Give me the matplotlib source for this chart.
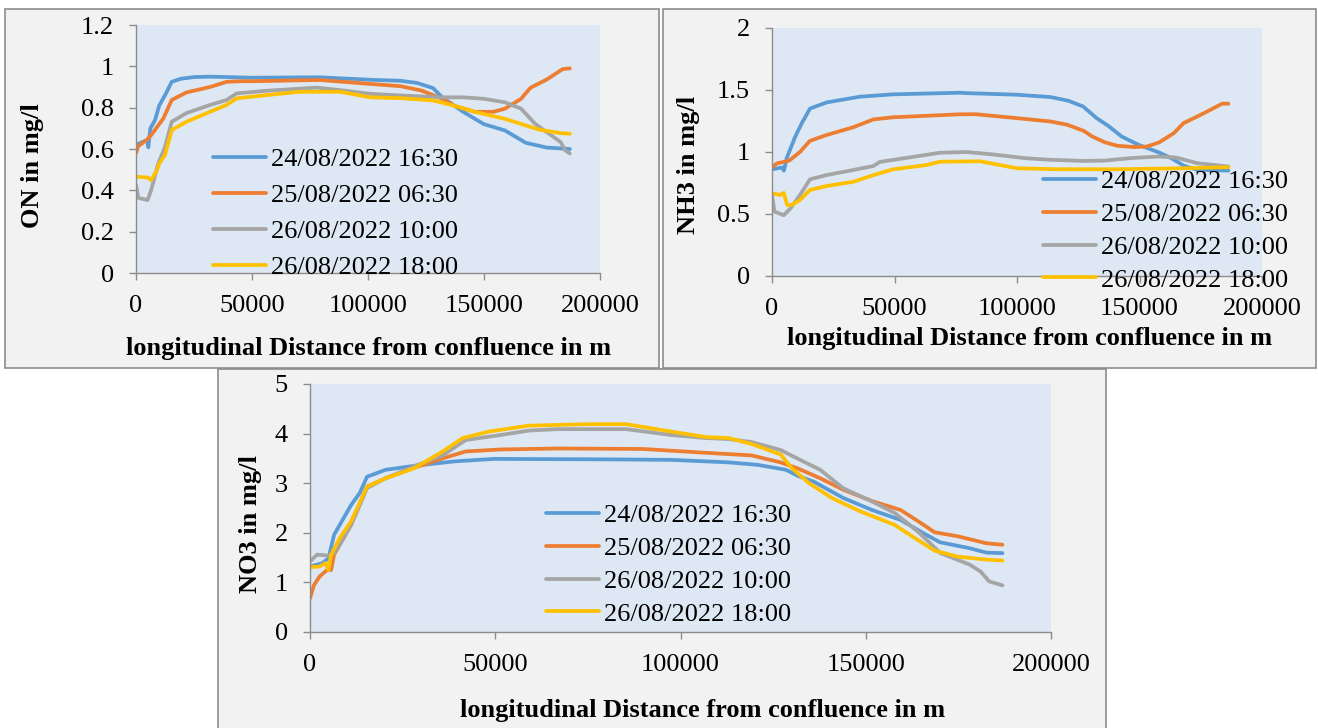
import matplotlib
matplotlib.use("Agg")
import matplotlib.pyplot as plt
from matplotlib.patches import Rectangle

# ---- data ----
labels = ["24/08/2022 16:30", "25/08/2022 06:30", "26/08/2022 10:00", "26/08/2022 18:00"]
colors = ["#5b9bd5", "#ed7d31", "#a5a5a5", "#ffc000"]

# ON (mg/l)
on_x1 = [0, 3000, 5000, 5300, 6200, 8200, 10000, 12500, 15400, 19400, 25000, 31900, 50000, 79000, 101000, 114000, 121000, 128000, 132000, 141000, 150000, 159000, 168000, 177000, 187000]
on_y1 = [0.62, 0.635, 0.643, 0.608, 0.70, 0.74, 0.81, 0.86, 0.925, 0.94, 0.948, 0.95, 0.945, 0.947, 0.935, 0.93, 0.92, 0.895, 0.85, 0.78, 0.72, 0.69, 0.63, 0.607, 0.60]
on_x2 = [0, 1000, 4500, 6500, 11800, 15400, 21800, 31900, 39000, 45000, 50000, 79000, 101000, 114000, 123000, 132000, 137000, 146000, 154000, 159000, 166000, 170000, 177000, 184000, 187000]
on_y2 = [0.58, 0.614, 0.643, 0.667, 0.748, 0.837, 0.874, 0.90, 0.925, 0.928, 0.928, 0.934, 0.915, 0.904, 0.883, 0.843, 0.81, 0.78, 0.78, 0.795, 0.843, 0.896, 0.936, 0.987, 0.99]
on_x3 = [0, 1000, 5000, 6500, 9600, 12500, 15400, 21800, 31900, 39000, 43400, 56300, 77900, 87900, 101000, 114000, 132000, 141000, 150000, 159000, 166000, 172000, 179000, 183000, 185000, 187000]
on_y3 = [0.426, 0.363, 0.353, 0.40, 0.53, 0.61, 0.732, 0.774, 0.813, 0.837, 0.869, 0.882, 0.897, 0.885, 0.867, 0.859, 0.85, 0.85, 0.843, 0.826, 0.795, 0.722, 0.666, 0.634, 0.594, 0.578]
on_x4 = [0, 5000, 6500, 8700, 10000, 12500, 15400, 21800, 31900, 39000, 43400, 56300, 70700, 87900, 101000, 114000, 128000, 137000, 146000, 159000, 168000, 174000, 183000, 187000]
on_y4 = [0.466, 0.462, 0.45, 0.49, 0.53, 0.571, 0.692, 0.732, 0.78, 0.813, 0.845, 0.861, 0.877, 0.877, 0.85, 0.846, 0.835, 0.81, 0.78, 0.746, 0.714, 0.693, 0.677, 0.674]

# NH3 (mg/l)
nh_x1 = [0, 4000, 4900, 6000, 9400, 12100, 15500, 22300, 35900, 49400, 76700, 79000, 100000, 113700, 121000, 127000, 132500, 137600, 142700, 149600, 158000, 163000, 168000, 173500, 186300]
nh_y1 = [0.86, 0.875, 0.85, 0.95, 1.12, 1.23, 1.35, 1.40, 1.446, 1.465, 1.478, 1.475, 1.462, 1.443, 1.413, 1.367, 1.273, 1.206, 1.125, 1.058, 0.996, 0.95, 0.89, 0.856, 0.85]
nh_x2 = [0, 2000, 7000, 11400, 15500, 22300, 33200, 41400, 49400, 76700, 82900, 100000, 113700, 120500, 127300, 130700, 136000, 141000, 148000, 153000, 158000, 164000, 168000, 175000, 183800, 186300]
nh_y2 = [0.875, 0.908, 0.93, 1.0, 1.09, 1.137, 1.20, 1.263, 1.28, 1.304, 1.305, 1.273, 1.246, 1.22, 1.17, 1.125, 1.077, 1.05, 1.04, 1.044, 1.077, 1.152, 1.233, 1.30, 1.39, 1.39]
nh_x3 = [0, 1000, 4800, 7600, 11400, 15500, 22300, 33200, 41400, 44000, 56300, 68600, 79500, 90400, 103400, 113700, 127300, 136000, 146000, 158000, 165000, 173500, 186300]
nh_y3 = [0.653, 0.52, 0.49, 0.546, 0.653, 0.78, 0.814, 0.855, 0.887, 0.92, 0.957, 0.994, 1.0, 0.98, 0.95, 0.937, 0.928, 0.931, 0.95, 0.964, 0.955, 0.91, 0.883]
nh_x4 = [0, 3400, 4800, 6200, 8200, 11400, 15500, 22300, 33200, 41400, 49400, 63100, 68600, 84900, 100000, 116000, 142000, 168000, 186300]
nh_y4 = [0.667, 0.653, 0.67, 0.573, 0.573, 0.613, 0.694, 0.726, 0.76, 0.814, 0.86, 0.895, 0.922, 0.925, 0.869, 0.861, 0.861, 0.869, 0.877]

# NO3 (mg/l)
no_x1 = [0, 3400, 5000, 6500, 8800, 11100, 13400, 15400, 20400, 28100, 39000, 49700, 82000, 97600, 113000, 120800, 128500, 131600, 136000, 144000, 151700, 159400, 165600, 170000, 178000, 182600, 186900]
no_y1 = [1.32, 1.39, 1.49, 1.96, 2.26, 2.56, 2.80, 3.13, 3.27, 3.35, 3.44, 3.49, 3.48, 3.47, 3.42, 3.37, 3.27, 3.15, 3.03, 2.70, 2.46, 2.26, 1.99, 1.81, 1.69, 1.60, 1.59]
no_x2 = [0, 1100, 2600, 4600, 5700, 6500, 11100, 15400, 20400, 28100, 35800, 42000, 51300, 66700, 89900, 105300, 119200, 127000, 131600, 137700, 143900, 151700, 159400, 164000, 168600, 174800, 182500, 186900]
no_y2 = [0.68, 0.95, 1.12, 1.25, 1.25, 1.56, 2.16, 2.93, 3.10, 3.31, 3.50, 3.64, 3.68, 3.70, 3.69, 3.62, 3.56, 3.42, 3.30, 3.10, 2.87, 2.64, 2.46, 2.24, 2.01, 1.93, 1.79, 1.76]
no_x3 = [0, 1900, 5000, 6500, 8800, 11100, 15400, 20400, 28100, 35800, 42000, 51300, 59000, 66700, 85300, 97600, 106900, 113000, 119200, 127000, 133100, 137700, 143900, 151700, 157800, 164000, 170200, 178000, 181000, 183300, 186900]
no_y3 = [1.42, 1.56, 1.54, 1.59, 1.86, 2.16, 2.90, 3.10, 3.34, 3.56, 3.87, 3.97, 4.06, 4.09, 4.09, 3.97, 3.91, 3.89, 3.83, 3.67, 3.44, 3.27, 2.90, 2.63, 2.40, 2.03, 1.59, 1.36, 1.22, 1.02, 0.94]
no_x4 = [0, 2600, 4200, 5000, 5700, 8000, 11100, 15400, 20400, 28100, 35800, 41200, 48200, 59000, 74400, 85300, 97600, 106900, 113000, 119200, 127000, 130100, 134700, 140900, 148600, 157800, 162500, 168600, 174800, 182500, 186900]
no_y4 = [1.31, 1.32, 1.39, 1.25, 1.56, 1.89, 2.23, 2.93, 3.10, 3.30, 3.64, 3.91, 4.04, 4.16, 4.19, 4.19, 4.04, 3.93, 3.91, 3.79, 3.58, 3.30, 3.00, 2.70, 2.43, 2.16, 1.93, 1.64, 1.52, 1.46, 1.44]

W, H = 1318, 728
SERIF = ["Liberation Serif", "DejaVu Serif"]
FS = 19

plt.rcParams["font.family"] = SERIF

fig = plt.figure(figsize=(W / 100, H / 100), dpi=100)
fig.patch.set_facecolor("white")


def px_rect(x0, y0, x1, y1):
    return [x0 / W, 1 - y1 / H, (x1 - x0) / W, (y1 - y0) / H]


def frame(x0, y0, x1, y1):
    fig.patches.append(Rectangle((x0 / W, 1 - y1 / H), (x1 - x0) / W, (y1 - y0) / H,
                                 transform=fig.transFigure, facecolor="#f2f2f2",
                                 edgecolor="#8c8c8c", linewidth=1.2, zorder=-5))


def panel(rect, xs, ys, ymax, ystep, yfmt, ylab, ylab_xy, xlab_xy, leg_xy, leg_space):
    ax = fig.add_axes(px_rect(*rect))
    ax.set_zorder(2)
    ax.set_facecolor("#dde8f4")
    for x, y, c, lab in zip(xs, ys, colors, labels):
        ax.plot(x, y, color=c, linewidth=2.7, label=lab, solid_capstyle="round")
    ax.set_xlim(0, 200000)
    ax.set_ylim(0, ymax)
    ax.set_xticks([0, 50000, 100000, 150000, 200000])
    yt = [i * ystep for i in range(int(round(ymax / ystep)) + 1)]
    ax.set_yticks(yt)
    ax.set_yticklabels([yfmt(v) for v in yt])
    for s in ["top", "right"]:
        ax.spines[s].set_visible(False)
    for s in ["left", "bottom"]:
        ax.spines[s].set_color("#8c8c8c")
        ax.spines[s].set_linewidth(1.0)
    ax.tick_params(axis="both", direction="out", length=5, width=1.0, color="#8c8c8c",
                   labelsize=FS, pad=11, labelcolor="black")
    fig.text(ylab_xy[0] / W, 1 - ylab_xy[1] / H, ylab, rotation=90, ha="center", va="center",
             fontsize=FS, fontweight="bold", family=SERIF)
    fig.text(xlab_xy[0] / W, 1 - xlab_xy[1] / H, "longitudinal Distance from confluence in m",
             ha="center", va="center", fontsize=FS, fontweight="bold", family=SERIF)
    leg = ax.legend(loc="upper left", bbox_to_anchor=(leg_xy[0] / W, 1 - leg_xy[1] / H),
                    bbox_transform=fig.transFigure, frameon=False, fontsize=FS,
                    handlelength=2.0, handletextpad=0.2, labelspacing=leg_space,
                    borderpad=0, borderaxespad=0)
    for t in leg.get_texts():
        t.set_family(SERIF)
    return ax


def f_on(v):
    return "0" if v == 0 else ("1" if abs(v - 1) < 1e-9 else f"{v:.1f}")


def f_nh(v):
    return f"{v:g}"


def f_no(v):
    return f"{v:g}"


frame(5, 9, 659, 368)
frame(663, 9, 1316, 368)
frame(218, 369, 1106, 735)

panel((136, 25, 600, 273), [on_x1, on_x2, on_x3, on_x4], [on_y1, on_y2, on_y3, on_y4],
      1.2, 0.2, f_on, "ON in mg/l", (32, 166), (369, 348), (213, 148), 0.47)
panel((772, 28, 1262, 276), [nh_x1, nh_x2, nh_x3, nh_x4], [nh_y1, nh_y2, nh_y3, nh_y4],
      2.0, 0.5, f_nh, "NH3 in mg/l", (689, 165), (1030, 338), (1043, 170), 0.35)
panel((310, 384, 1051, 632), [no_x1, no_x2, no_x3, no_x4], [no_y1, no_y2, no_y3, no_y4],
      5.0, 1.0, f_no, "NO3 in mg/l", (250, 524), (703, 711), (546, 504), 0.35)

fig.savefig("out.png", dpi=100, facecolor="white")
